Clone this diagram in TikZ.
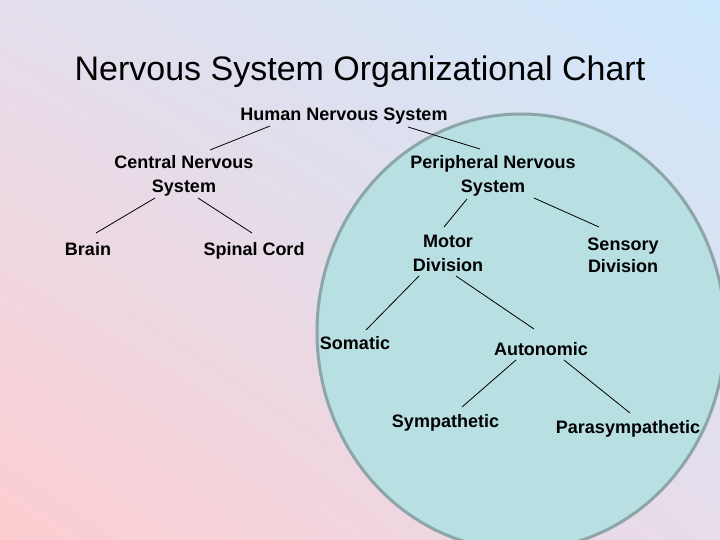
\documentclass[tikz,border=0pt]{standalone}
\usepackage{fontspec}
\setmainfont{Liberation Sans}
\usetikzlibrary{shadings}
\definecolor{bgUL}{RGB}{228,222,236}
\definecolor{bgUR}{RGB}{204,232,252}
\definecolor{bgLL}{RGB}{253,205,208}
\definecolor{bgLR}{RGB}{231,220,234}
\definecolor{ellfill}{RGB}{184,223,226}
\definecolor{elledge}{RGB}{139,165,168}
\begin{document}
\begin{tikzpicture}[x=1pt,y=-1pt,
  lbl/.style={font=\fontsize{18}{24}\selectfont\bfseries, inner sep=0pt, anchor=base, align=center, text=black},
  link/.style={draw=black, line width=0.8pt}]
\useasboundingbox (0,0) rectangle (720,540);
\shade[upper left=bgUL, upper right=bgUR, lower left=bgLL, lower right=bgLR] (0,0) rectangle (720,540);
\draw[fill=ellfill, draw=elledge, line width=3pt] (521,332) ellipse [x radius=204, y radius=218];

\node[font=\fontsize{34}{40}\selectfont, inner sep=0pt, anchor=base] (title) at (360,81) {Nervous System Organizational Chart};

\node[lbl] (hns) at (344,121) {Human Nervous System};
\node[lbl] (cns) at (184,193) {Central Nervous\\System};
\node[lbl] (pns) at (493,193) {Peripheral Nervous\\System};
\node[lbl] (brain) at (88,255) {Brain};
\node[lbl] (spinal) at (254,255) {Spinal Cord};
\node[lbl] (motor) at (448,271) {Motor\\Division};
\node[lbl, font=\fontsize{18}{22}\selectfont\bfseries] (sensory) at (623,272) {Sensory\\Division};
\node[lbl] (somatic) at (355,349) {Somatic};
\node[lbl] (auto) at (541,355) {Autonomic};
\node[lbl] (symp) at (445.5,427) {Sympathetic};
\node[lbl] (para) at (628,433) {Parasympathetic};

\coordinate (hns-l) at (270,126);
\coordinate (cns-t) at (210,150);
\coordinate (hns-r) at (408,127);
\coordinate (pns-t) at (480,149);
\coordinate (cns-l) at (155,198);
\coordinate (brain-t) at (96,233);
\coordinate (cns-r) at (198,198);
\coordinate (spinal-t) at (252,233);
\coordinate (pns-l) at (467,199);
\coordinate (motor-t) at (444,227);
\coordinate (pns-r) at (534,198);
\coordinate (sensory-t) at (599,227);
\coordinate (motor-l) at (419,276);
\coordinate (somatic-t) at (366,330);
\coordinate (motor-r) at (456,276);
\coordinate (auto-t) at (534,329);
\coordinate (auto-l) at (516,360);
\coordinate (symp-t) at (462,407);
\coordinate (auto-r) at (564,360);
\coordinate (para-t) at (630,413);

\draw[link] (hns-l) -- (cns-t);
\draw[link] (hns-r) -- (pns-t);
\draw[link] (cns-l) -- (brain-t);
\draw[link] (cns-r) -- (spinal-t);
\draw[link] (pns-l) -- (motor-t);
\draw[link] (pns-r) -- (sensory-t);
\draw[link] (motor-l) -- (somatic-t);
\draw[link] (motor-r) -- (auto-t);
\draw[link] (auto-l) -- (symp-t);
\draw[link] (auto-r) -- (para-t);
\end{tikzpicture}
\end{document}
